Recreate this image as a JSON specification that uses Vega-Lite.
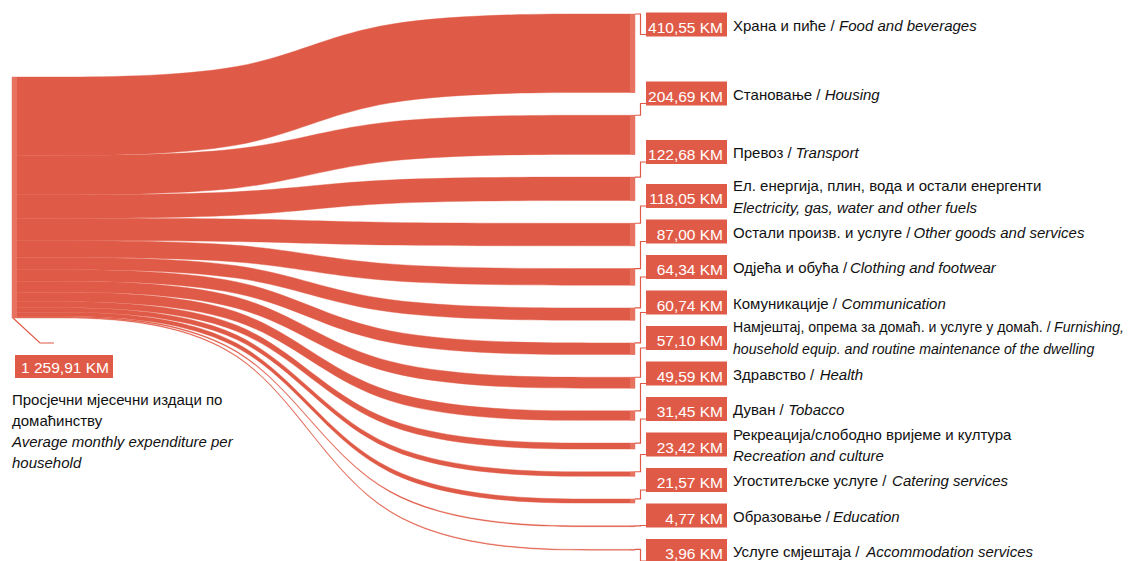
{
  "$schema": "https://vega.github.io/schema/vega-lite/v6.json",
  "width": 1130,
  "height": 561,
  "autosize": "none",
  "padding": 0,
  "background": "#ffffff",
  "config": {
    "view": {"stroke": null},
    "font": "Liberation Sans, Arial, sans-serif"
  },
  "datasets": {
    "expenses": [
      {"label": "Храна и пиће / Food and beverages", "value": 410.55},
      {"label": "Становање / Housing", "value": 204.69},
      {"label": "Превоз / Transport", "value": 122.68},
      {"label": "Ел. енергија, плин, вода и остали енергенти\nElectricity, gas, water and other fuels", "value": 118.05},
      {"label": "Остали произв. и услуге / Other goods and services", "value": 87.00},
      {"label": "Одјећа и обућа / Clothing and footwear", "value": 64.34},
      {"label": "Комуникације / Communication", "value": 60.74},
      {"label": "Намјештај, опрема за домаћ. и услуге у домаћ. / Furnishing,\nhousehold equip. and routine maintenance of the dwelling", "value": 57.10},
      {"label": "Здравство / Health", "value": 49.59},
      {"label": "Дуван / Tobacco", "value": 31.45},
      {"label": "Рекреација/слободно вријеме и култура\nRecreation and culture", "value": 23.42},
      {"label": "Угоститељске услуге / Catering services", "value": 21.57},
      {"label": "Образовање / Education", "value": 4.77},
      {"label": "Услуге смјештаја / Accommodation services", "value": 3.96}
    ],
    "total": [
      {"sr": "Просјечни мјесечни издаци по\nдомаћинству", "en": "Average monthly expenditure per\nhousehold", "value": 1259.91}
    ]
  },
  "encoding": {
    "x": {"field": "X", "type": "quantitative", "scale": {"domain": [0, 1130], "nice": false, "zero": false}, "axis": null},
    "y": {"field": "Y", "type": "quantitative", "scale": {"domain": [0, 2932.9], "reverse": true, "nice": false, "zero": false}, "axis": null, "stack": null}
  },
  "layer": [
    {
      "data": {"name": "expenses"},
      "transform": [
        {"window": [{"op": "sum", "field": "value", "as": "cum"}, {"op": "row_number", "as": "rank"}], "sort": [{"field": "value", "order": "descending"}], "frame": [null, 0]},
        {"calculate": "402.6 + datum.cum - datum.value", "as": "ly0"},
        {"calculate": "402.6 + datum.cum", "as": "ly1"},
        {"calculate": "73.2 + datum.cum - datum.value + (datum.rank - 1) * 118.7", "as": "ry0"},
        {"calculate": "datum.ry0 + datum.value", "as": "ry1"},
        {"calculate": "datum.rank == 1 ? 128.1 : datum.rank == 2 ? 488.8 : datum.rank == 3 ? 794.6 : 1024.7 + (datum.rank - 4) * 185.6", "as": "lc"},
        {"calculate": "(indexof(datum.label, ' / ') >= 0 && (indexof(datum.label, '\\n') < 0 || indexof(datum.label, ' / ') < indexof(datum.label, '\\n'))) ? substring(datum.label, 0, indexof(datum.label, ' / ') + 3) : (indexof(datum.label, '\\n') >= 0 ? substring(datum.label, 0, indexof(datum.label, '\\n')) : datum.label)", "as": "head"},
        {"calculate": "substring(datum.label, length(datum.head))", "as": "rest"},
        {"calculate": "split(datum.rest, '\\n')[0]", "as": "it1"},
        {"calculate": "indexof(datum.rest, '\\n') >= 0 ? split(datum.rest, '\\n')[1] : ''", "as": "it2"},
        {"calculate": "replace(replace(format(datum.value, ',.2f'), regexp(',', 'g'), ' '), '.', ',') + ' KM'", "as": "amount"},
        {"calculate": "0.015 * (556 * length(datum.head) - 334 * length(replace(datum.head, regexp('[^ijlјі]', 'g'), '')) - 278 * length(replace(datum.head, regexp('[^ .,/ftI]', 'g'), '')) - 223 * length(replace(datum.head, regexp('[^r]', 'g'), '')) - 126 * length(replace(datum.head, regexp('[^гзкт]', 'g'), '')) - 56 * length(replace(datum.head, regexp('[^сухcszykvx]', 'g'), '')) + 124 * length(replace(datum.head, regexp('[^мж]', 'g'), '')) + 274 * length(replace(datum.head, regexp('[^шщфљњmw]', 'g'), '')) + 124 * length(replace(datum.head, regexp('[^А-ЯЂЈЉЊЋЏA-HJ-Z]', 'g'), '')))", "as": "wh"},
        {"calculate": "0.015 * (556 * length(datum.it1) - 334 * length(replace(datum.it1, regexp('[^ijlјі]', 'g'), '')) - 278 * length(replace(datum.it1, regexp('[^ .,/ftI]', 'g'), '')) - 223 * length(replace(datum.it1, regexp('[^r]', 'g'), '')) - 126 * length(replace(datum.it1, regexp('[^гзкт]', 'g'), '')) - 56 * length(replace(datum.it1, regexp('[^сухcszykvx]', 'g'), '')) + 124 * length(replace(datum.it1, regexp('[^мж]', 'g'), '')) + 274 * length(replace(datum.it1, regexp('[^шщфљњmw]', 'g'), '')) + 124 * length(replace(datum.it1, regexp('[^А-ЯЂЈЉЊЋЏA-HJ-Z]', 'g'), '')))", "as": "wi"},
        {"calculate": "min(15, 15 * 392 / (datum.wh + datum.wi))", "as": "fs"}
      ],
      "layer": [
        {
          "transform": [
            {"calculate": "[{x: 12, a: datum.ly0, b: datum.ly1}, {x: 262, a: datum.ly0, b: datum.ly1}, {x: 360, a: datum.ry0, b: datum.ry1}, {x: 635, a: datum.ry0, b: datum.ry1}]", "as": "pts"},
            {"flatten": ["pts"]},
            {"calculate": "datum.pts.x", "as": "X"},
            {"calculate": "datum.pts.a", "as": "Y"},
            {"calculate": "datum.pts.b", "as": "Y2"}
          ],
          "mark": {"type": "area", "interpolate": "basis", "color": "#e05b47", "stroke": "#e05b47", "strokeWidth": 0.4},
          "encoding": {"y2": {"field": "Y2"}, "detail": {"field": "label", "type": "nominal"}}
        },
        {
          "transform": [
            {"calculate": "630", "as": "X"},
            {"calculate": "635", "as": "X2"},
            {"calculate": "datum.ry0", "as": "Y"},
            {"calculate": "datum.ry1", "as": "Y2"}
          ],
          "mark": {"type": "rect", "color": "#e6725f"},
          "encoding": {"x2": {"field": "X2"}, "y2": {"field": "Y2"}}
        },
        {
          "transform": [
            {"calculate": "[{x: 635, y: datum.ry0}, {x: 646, y: datum.lc + 52.3}]", "as": "pts"},
            {"flatten": ["pts"]},
            {"calculate": "datum.pts.x", "as": "X"},
            {"calculate": "datum.pts.y", "as": "Y"}
          ],
          "mark": {"type": "line", "interpolate": "step", "color": "#e05b47", "strokeWidth": 1.2},
          "encoding": {"detail": {"field": "label", "type": "nominal"}}
        },
        {
          "transform": [
            {"calculate": "646", "as": "X"},
            {"calculate": "727", "as": "X2"},
            {"calculate": "datum.lc - 62.7", "as": "Y"},
            {"calculate": "datum.lc + 62.7", "as": "Y2"}
          ],
          "mark": {"type": "rect", "color": "#e05b47"},
          "encoding": {"x2": {"field": "X2"}, "y2": {"field": "Y2"}}
        },
        {
          "transform": [
            {"calculate": "723", "as": "X"},
            {"calculate": "datum.lc + 18", "as": "Y"}
          ],
          "mark": {"type": "text", "align": "right", "baseline": "middle", "color": "#ffffff", "fontSize": 15.5},
          "encoding": {"text": {"field": "amount", "type": "nominal"}}
        },
        {
          "transform": [
            {"calculate": "733", "as": "X"},
            {"calculate": "datum.it2 != '' ? datum.lc - 50 : datum.lc + 6", "as": "Y"}
          ],
          "mark": {"type": "text", "align": "left", "baseline": "middle", "color": "#111111"},
          "encoding": {
            "text": {"field": "head", "type": "nominal"},
            "size": {"field": "fs", "type": "quantitative", "scale": null, "legend": null}
          }
        },
        {
          "transform": [
            {"filter": "datum.it1 != ''"},
            {"calculate": "733 + datum.wh * datum.fs / 15", "as": "X"},
            {"calculate": "datum.it2 != '' ? datum.lc - 50 : datum.lc + 6", "as": "Y"}
          ],
          "mark": {"type": "text", "align": "left", "baseline": "middle", "color": "#111111", "fontStyle": "italic"},
          "encoding": {
            "text": {"field": "it1", "type": "nominal"},
            "size": {"field": "fs", "type": "quantitative", "scale": null, "legend": null}
          }
        },
        {
          "transform": [
            {"filter": "datum.it2 != ''"},
            {"calculate": "733", "as": "X"},
            {"calculate": "datum.lc + 62", "as": "Y"}
          ],
          "mark": {"type": "text", "align": "left", "baseline": "middle", "color": "#111111", "fontStyle": "italic"},
          "encoding": {
            "text": {"field": "it2", "type": "nominal"},
            "size": {"field": "fs", "type": "quantitative", "scale": null, "legend": null}
          }
        }
      ]
    },
    {
      "data": {"name": "total"},
      "transform": [
        {"calculate": "replace(replace(format(datum.value, ',.2f'), regexp(',', 'g'), ' '), '.', ',') + ' KM'", "as": "amount"}
      ],
      "layer": [
        {
          "transform": [
            {"calculate": "12", "as": "X"},
            {"calculate": "17", "as": "X2"},
            {"calculate": "402.6", "as": "Y"},
            {"calculate": "402.6 + datum.value", "as": "Y2"}
          ],
          "mark": {"type": "rect", "color": "#e6725f"},
          "encoding": {"x2": {"field": "X2"}, "y2": {"field": "Y2"}}
        },
        {
          "transform": [
            {"calculate": "[{x: 13, y: 402.6 + datum.value}, {x: 40, y: 1793.2}, {x: 54, y: 1793.2}]", "as": "pts"},
            {"flatten": ["pts"]},
            {"calculate": "datum.pts.x", "as": "X"},
            {"calculate": "datum.pts.y", "as": "Y"}
          ],
          "mark": {"type": "line", "color": "#e05b47", "strokeWidth": 1.2}
        },
        {
          "transform": [
            {"calculate": "15", "as": "X"},
            {"calculate": "113", "as": "X2"},
            {"calculate": "1855.9", "as": "Y"},
            {"calculate": "1976.2", "as": "Y2"}
          ],
          "mark": {"type": "rect", "color": "#e05b47"},
          "encoding": {"x2": {"field": "X2"}, "y2": {"field": "Y2"}}
        },
        {
          "transform": [
            {"calculate": "65", "as": "X"},
            {"calculate": "1926", "as": "Y"}
          ],
          "mark": {"type": "text", "align": "center", "baseline": "middle", "color": "#ffffff", "fontSize": 15.5},
          "encoding": {"text": {"field": "amount", "type": "nominal"}}
        },
        {
          "transform": [
            {"calculate": "12", "as": "X"},
            {"calculate": "2119.9", "as": "Y"}
          ],
          "mark": {"type": "text", "align": "left", "baseline": "alphabetic", "color": "#111111", "fontSize": 15, "lineBreak": "\n", "lineHeight": 20.8},
          "encoding": {"text": {"field": "sr", "type": "nominal"}}
        },
        {
          "transform": [
            {"calculate": "12", "as": "X"},
            {"calculate": "2336.9", "as": "Y"}
          ],
          "mark": {"type": "text", "align": "left", "baseline": "alphabetic", "color": "#111111", "fontSize": 15, "fontStyle": "italic", "lineBreak": "\n", "lineHeight": 20.8},
          "encoding": {"text": {"field": "en", "type": "nominal"}}
        }
      ]
    }
  ]
}
